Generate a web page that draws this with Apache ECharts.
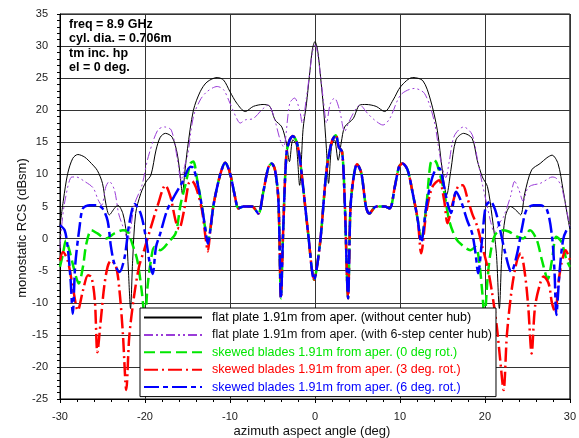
<!DOCTYPE html>
<html><head><meta charset="utf-8">
<script src="https://cdn.jsdelivr.net/npm/echarts/dist/echarts.min.js"></script>
<style>html,body{margin:0;padding:0;background:#fff}#c{width:579px;height:438px}</style>
</head><body><div id="c"></div>
<script>
const FONT = '"Liberation Sans", Arial, Helvetica, sans-serif';

const seriesNames = [
  'flat plate 1.91m from aper. (without center hub)',
  'flat plate 1.91m from aper. (with 6-step center hub)',
  'skewed blades 1.91m from aper. (0 deg rot.)',
  'skewed blades 1.91m from aper. (3 deg. rot.)',
  'skewed blades 1.91m from aper. (6 deg. rot.)'
];
const annotationLines = ['freq = 8.9 GHz', 'cyl. dia. = 0.706m', 'tm inc. hp', 'el = 0 deg.'];
const xTitle = 'azimuth aspect angle (deg)';
const yTitle = 'monostatic RCS (dBsm)';

// [angle (deg), RCS (dBsm)]
const flatNoHub = [
  [-30,2.0],[-29.6,6.0],[-29.1,10.1],[-28.5,12.5],[-27.9,13.1],[-27.1,12.7],[-26.3,11.7],[-25.6,10.6],[-25.0,8.6],
  [-24.6,5.4],[-24.2,3.7],[-23.6,4.7],[-23.2,5.2],[-22.6,3.9],[-22.2,0.8],[-21.95,-5],[-21.7,-10.9],[-21.45,-3.4],
  [-21.1,3.9],[-20.5,7.0],[-19.9,8.8],[-19.3,9.9],[-18.7,13.8],[-18.2,15.8],[-17.6,16.4],[-16.8,15.8],[-16.2,13.2],
  [-15.8,9.1],[-15.6,7.0],[-15.3,10.5],[-15.0,14.0],[-14.3,20.0],[-13.5,22.9],[-12.7,24.4],[-11.5,25.1],[-10.75,24.7],
  [-10,22.9],[-9.2,21.1],[-8.2,19.8],[-7.25,20.6],[-6.1,20.9],[-5.3,20.6],[-4.7,18.5],[-3.9,17.4],[-3.35,14.8],
  [-3.0,12.0],[-2.6,15.4],[-2.2,14.6],[-1.8,8.3],[-1.4,17.0],[-1.0,21.0],[-0.66,25.2],[-0.3,29.5],[0,30.7],
  [0.3,29.5],[0.66,25.2],[1.0,20.5],[1.35,14.0],[1.6,8.6],[1.95,14.3],[2.3,15.4],[2.73,12.2],[3.1,15.0],[3.5,17.4],
  [4.5,18.7],[5.26,20.8],[6.0,20.9],[7.2,20.6],[8.2,19.8],[9.2,21.6],[10.1,23.7],[11.5,25.1],[12.7,24.6],[13.6,21.6],
  [14.4,16.9],[15.0,10.5],[15.5,6.8],[16.0,10.7],[16.6,15.4],[17.5,16.4],[18.5,15.6],[19.1,12.2],[19.7,9.6],[20.3,8.1],
  [20.85,3.4],[21.35,-2.3],[21.7,-10.9],[22.0,-2.3],[22.4,3.4],[23.0,5.0],[23.6,4.5],[24.2,3.7],[24.7,7.1],[25.5,10.7],
  [26.5,11.7],[27.3,12.6],[27.9,13.0],[28.6,11.7],[29.2,7.6],[29.8,2.9],[30,1.5]
];
const flatHub = [
  [-30,-1.5],[-29.8,2.0],[-29.4,6.0],[-28.6,9.6],[-28.1,9.6],[-27.1,8.9],[-26.1,7.9],[-25.5,6.0],[-25.1,5.2],
  [-24.6,8.1],[-24.2,8.9],[-23.6,7.6],[-23.1,3.9],[-22.6,1.9],[-22.0,-0.1],[-21.7,1.5],[-21.2,5.5],[-20.4,8.1],
  [-19.6,12.8],[-18.5,16.9],[-17.7,17.4],[-16.9,16.9],[-16.2,12.5],[-15.75,9.1],[-15.3,11.5],[-15.0,12.8],[-14.3,19.0],
  [-13.5,21.6],[-12.7,22.9],[-11.5,23.7],[-10.75,23.2],[-10,21.1],[-9.2,18.7],[-8.8,18.0],[-8.2,18.5],[-7.25,18.7],
  [-6.3,20.0],[-5.5,20.8],[-4.9,19.3],[-4.1,15.4],[-3.7,14.3],[-2.96,21.1],[-2.4,21.9],[-1.8,20.0],[-1.5,18.0],
  [-1.0,22.0],[-0.6,26.0],[-0.3,29.0],[0,30.2],[0.3,29.0],[0.6,26.0],[1.0,21.5],[1.37,18.0],[1.8,21.0],[2.3,21.9],
  [2.9,20.0],[3.5,16.7],[4.1,18.5],[5.3,20.8],[6.2,19.5],[7.0,18.5],[8.0,17.7],[8.8,18.7],[10.1,22.4],[11.7,23.4],
  [12.9,22.6],[14.0,18.5],[14.8,12.2],[15.4,9.5],[15.8,12.0],[16.4,16.0],[17.5,17.4],[18.5,16.2],[19.1,12.5],
  [19.7,8.5],[20.2,5.5],[20.7,2.5],[21.1,1.0],[21.8,2.6],[22.2,3.4],[23.0,6.5],[23.5,8.9],[24.0,7.6],[24.5,5.8],
  [25.0,7.8],[25.5,8.3],[26.5,8.6],[27.3,9.2],[27.9,9.6],[28.4,9.4],[29.0,8.1],[29.6,4.5],[30,1.9]
];
// shared central part of the three skewed-blade curves
const bladesCenter = [
  [-12.3,1.5],[-11.9,5.5],[-11.1,10.2],[-10.56,11.8],[-10,10.2],[-9.4,6.5],[-9.0,4.7],[-8.4,5.0],[-7.4,5.0],
  [-6.66,3.9],[-6.1,7.1],[-5.5,11.0],[-5.1,11.7],[-4.7,10.7],[-4.3,6.0],[-4.0,-9.3],[-3.75,0.8],[-3.35,13.3],
  [-2.96,15.4],[-2.6,16.0],[-2.0,14.3],[-1.4,8.1],[-0.8,0.8],[-0.1,-6.4],[0.6,-0.7],[1.37,10.7],[2.0,15.2],
  [2.46,16.1],[2.8,14.3],[3.2,13.5],[3.5,6.0],[3.9,-9.3],[4.17,4.5],[4.5,9.1],[4.95,11.6],[5.46,10.2],[6.0,5.0],
  [6.4,3.9],[7.2,5.0],[8.2,5.0],[8.8,4.7],[9.4,8.1],[9.9,11.2],[10.3,11.7],[10.9,10.7],[11.5,7.1],[12.1,2.9]
];
const blades0Left = [
  [-30,-4.4],[-29.65,-2.4],[-29.3,-0.3],[-28.9,-1.8],[-28.3,-5.0],[-27.8,-7.0],[-27.3,-4.4],[-26.9,-0.8],[-26.3,1.3],
  [-25.6,0.8],[-24.6,0.0],[-23.6,0.8],[-22.6,1.3],[-22.0,1.0],[-21.5,-0.8],[-20.9,-3.4],[-20.4,-8.0],[-20.0,-12.5],
  [-19.7,-7.5],[-19.3,-3.4],[-18.9,-1.3],[-18.2,-1.8],[-17.2,-0.5],[-16.4,0.8],[-15.8,5.4],[-15.2,8.6],[-14.65,11.7],
  [-14.3,12.0],[-13.9,9.5],[-13.3,5.0],[-12.9,1.5],[-12.6,-0.5]
];
const blades0Right = [
  [12.5,-0.3],[13.1,5.0],[13.6,11.7],[14.0,12.3],[14.4,11.5],[15.2,7.3],[15.8,2.8],[16.6,0.0],[17.3,-1.0],[18.3,-1.8],
  [18.9,-1.3],[19.3,-3.3],[19.7,-8.5],[19.95,-12.5],[20.3,-6.5],[20.65,-2.3],[21.2,0.6],[22.0,1.3],[22.8,1.1],
  [23.8,0.3],[24.5,0.0],[25.3,1.3],[26.1,-0.2],[26.7,-3.3],[27.4,-6.3],[27.9,-3.3],[28.4,0.3],[29.0,-0.5],[29.6,-3.3],[30,-4.4]
];
const blades3Left = [
  [-30,-3.4],[-29.65,-2.1],[-29.1,-3.4],[-28.5,-7.5],[-27.9,-11.2],[-27.3,-8.1],[-26.7,-5.7],[-26.3,-6.0],[-25.9,-9.6],
  [-25.6,-17.7],[-25.2,-12.7],[-24.8,-7.5],[-24.4,-4.4],[-24.0,-3.4],[-23.4,-4.4],[-23.0,-8.1],[-22.6,-14.8],
  [-22.2,-23.6],[-21.85,-15.3],[-21.3,-9.1],[-20.7,-4.4],[-20.1,-1.8],[-19.3,1.8],[-18.5,5.2],[-17.6,8.3],[-17.0,6.5],
  [-16.4,2.8],[-16.0,1.5],[-15.4,4.4],[-14.85,8.6],[-14.5,9.0],[-14.0,8.0],[-13.3,4.5],[-12.9,0.5],[-12.6,-2.0]
];
const blades3Right = [
  [12.5,-2.3],[13.1,4.0],[13.8,8.0],[14.6,9.1],[15.2,6.0],[15.6,2.4],[16.2,5.5],[16.9,8.2],[17.4,8.3],[17.9,6.5],
  [18.5,3.9],[19.1,1.9],[19.7,-1.3],[20.3,-4.4],[20.85,-8.5],[21.4,-13.7],[21.8,-18.9],[22.2,-23.6],[22.6,-14.8],
  [23.2,-7.5],[23.8,-3.3],[24.2,-2.3],[24.7,-5.4],[25.1,-10.6],[25.5,-17.9],[25.9,-10.6],[26.5,-7.0],[26.9,-5.9],
  [27.5,-7.0],[27.9,-10.1],[28.3,-11.6],[28.6,-7.5],[29.0,-3.9],[29.5,-1.8],[30,-3.3]
];
const blades6Left = [
  [-30,2.1],[-29.45,1.3],[-29.1,-1.3],[-28.75,-6.5],[-28.5,-11.7],[-28.2,-4.0],[-27.7,1.8],[-27.3,4.7],[-26.5,5.2],
  [-25.6,5.2],[-25.0,4.7],[-24.4,2.8],[-24.0,-1.3],[-23.6,-3.9],[-23.0,-5.2],[-22.4,-2.9],[-21.85,2.3],[-21.2,5.4],
  [-20.5,3.9],[-19.9,0.2],[-19.5,-3.4],[-19.1,-5.5],[-18.7,-1.3],[-18.2,0.8],[-17.4,4.4],[-16.6,6.5],[-15.6,8.8],
  [-14.65,11.2],[-14.3,11.0],[-13.8,8.5],[-13.3,5.0],[-12.9,1.5],[-12.6,-0.8]
];
const blades6Right = [
  [12.5,-0.6],[13.1,5.0],[13.6,8.5],[14.1,10.5],[14.6,11.0],[15.2,8.1],[15.6,5.5],[16.0,4.0],[16.6,7.3],[17.2,5.8],
  [17.9,2.9],[18.5,0.8],[18.9,-2.3],[19.2,-5.4],[19.7,0.3],[20.1,5.0],[20.65,5.8],[21.2,4.5],[21.8,1.3],[22.4,-2.3],
  [23.1,-5.2],[23.8,-2.3],[24.4,1.9],[24.9,4.5],[25.7,5.2],[26.5,5.2],[27.3,4.5],[27.9,0.3],[28.2,-5.4],[28.4,-11.9],
  [28.8,-4.9],[29.2,-0.2],[29.6,1.3],[30,1.8]
];

const blades0 = blades0Left.concat(bladesCenter, blades0Right);
const blades3 = blades3Left.concat(bladesCenter, blades3Right);
const blades6 = blades6Left.concat(bladesCenter, blades6Right);

const colors = ['#000000', '#9A3CD8', '#00E600', '#FF0000', '#0000FF'];
const textColors = ['#000000', '#111111', '#00E600', '#FF0000', '#0000FF'];

const chart = echarts.init(document.getElementById('c'), null, {renderer: 'canvas'});

function mk(i, data, width, type) {
  return {
    name: seriesNames[i], type: 'line', data: data, smooth: 0.3, symbol: 'none',
    showSymbol: false, animation: false, z: 2 + i,
    lineStyle: {color: colors[i], width: width, type: type},
    itemStyle: {color: colors[i]}
  };
}

chart.setOption({
  animation: false,
  backgroundColor: '#fff',
  textStyle: {fontFamily: FONT},
  grid: {left: 60, top: 14, right: 6, bottom: 39, show: true, borderColor: '#000', borderWidth: 1, backgroundColor: 'transparent'},
  xAxis: {
    type: 'value', min: -30, max: 30, interval: 10,
    axisLine: {show: true, onZero: false, lineStyle: {color: '#000', width: 1}},
    axisTick: {show: true, inside: false, length: 4, lineStyle: {color: '#000'}},
    minorTick: {show: true, splitNumber: 5, length: 3, lineStyle: {color: '#000'}},
    axisLabel: {fontSize: 11, color: '#222', margin: 12, fontFamily: FONT},
    splitLine: {show: true, lineStyle: {color: '#333', width: 1}}
  },
  yAxis: {
    type: 'value', min: -25, max: 35, interval: 5,
    axisLine: {show: true, onZero: false, lineStyle: {color: '#000', width: 1}},
    axisTick: {show: true, inside: false, length: 3, lineStyle: {color: '#000'}},
    minorTick: {show: true, splitNumber: 5, length: 3, lineStyle: {color: '#000'}},
    axisLabel: {fontSize: 11, color: '#222', margin: 12, fontFamily: FONT},
    splitLine: {show: true, lineStyle: {color: '#333', width: 1}}
  },
  legend: {
    show: true, orient: 'vertical', left: 140, top: 308,
    backgroundColor: '#fff', borderColor: '#000', borderWidth: 1,
    padding: [3, 4, 3, 3], itemWidth: 58, itemHeight: 13, itemGap: 4.4,
    itemStyle: {color: 'transparent', borderColor: 'transparent', borderWidth: 0},
    textStyle: {fontSize: 12.5, fontFamily: FONT, padding: [0, 0, 0, 5]},
    data: seriesNames.map((n, i) => ({name: n, textStyle: {color: textColors[i]}})),
    z: 20
  },
  graphic: [
    {type: 'text', left: 69, top: 17, z: 30, style: {text: annotationLines.join('\n'), font: 'bold 12.5px ' + FONT, lineHeight: 14.5, fill: '#000'}},
    {type: 'text', x: 312, y: 431, z: 30, style: {text: xTitle, font: '13px ' + FONT, fill: '#111', textAlign: 'center', textVerticalAlign: 'middle'}},
    {type: 'text', x: 22, y: 228, rotation: Math.PI / 2, z: 30, style: {text: yTitle, font: '13px ' + FONT, fill: '#111', textAlign: 'center', textVerticalAlign: 'middle'}}
  ],
  series: [
    mk(0, flatNoHub, 1, 'solid'),
    mk(1, flatHub, 1, [9, 3, 2, 3, 2, 3]),
    mk(2, blades0, 2.5, [11, 5]),
    mk(3, blades3, 2.5, [14, 4, 2, 4]),
    mk(4, blades6, 2.5, [15, 4, 5, 4])
  ]
});
</script>
</body></html>
